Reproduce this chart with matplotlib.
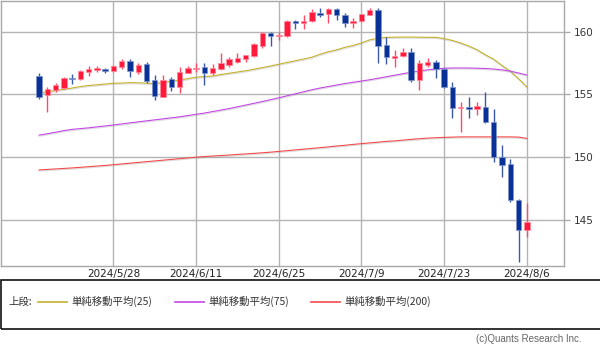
import matplotlib
matplotlib.use("Agg")
import matplotlib.pyplot as plt
import matplotlib.patheffects as pe
from matplotlib.patches import Rectangle
from matplotlib.lines import Line2D
import numpy as np

# ---------------- data ----------------
dates = ["2024/5/15", "2024/5/16", "2024/5/17", "2024/5/20", "2024/5/21", "2024/5/22",
         "2024/5/23", "2024/5/24", "2024/5/27", "2024/5/28", "2024/5/29", "2024/5/30",
         "2024/5/31", "2024/6/3", "2024/6/4", "2024/6/5", "2024/6/6", "2024/6/7",
         "2024/6/10", "2024/6/11", "2024/6/12", "2024/6/13", "2024/6/14", "2024/6/17",
         "2024/6/18", "2024/6/19", "2024/6/20", "2024/6/21", "2024/6/24", "2024/6/25",
         "2024/6/26", "2024/6/27", "2024/6/28", "2024/7/1", "2024/7/2", "2024/7/3",
         "2024/7/4", "2024/7/5", "2024/7/8", "2024/7/9", "2024/7/10", "2024/7/11",
         "2024/7/12", "2024/7/15", "2024/7/16", "2024/7/17", "2024/7/18", "2024/7/19",
         "2024/7/22", "2024/7/23", "2024/7/24", "2024/7/25", "2024/7/26", "2024/7/29",
         "2024/7/30", "2024/7/31", "2024/8/1", "2024/8/2", "2024/8/5", "2024/8/6"]

opens = [156.49, 154.95, 155.34, 155.48, 156.30, 156.20, 156.78, 156.94, 157.05, 156.88,
         157.16, 157.66, 156.80, 157.40, 156.14, 154.80, 156.20, 155.60, 156.73, 157.00,
         157.16, 156.68, 157.00, 157.34, 157.60, 157.80, 158.06, 158.88, 159.87, 159.66,
         159.66, 160.85, 160.72, 160.88, 161.52, 161.41, 161.79, 161.33, 160.67, 160.88,
         161.33, 161.73, 158.94, 157.88, 158.06, 158.40, 156.14, 157.34, 157.56, 157.02,
         155.60, 153.93, 154.00, 153.83, 154.00, 152.81, 150.00, 149.41, 146.56, 144.16]
highs = [156.68, 155.56, 155.93, 156.40, 156.60, 156.94, 157.26, 157.26, 157.10, 157.34,
         157.80, 157.80, 157.50, 157.60, 156.54, 156.54, 156.35, 157.16, 157.26, 157.48,
         157.48, 157.40, 158.27, 157.96, 158.27, 158.14, 159.07, 159.95, 160.00, 160.00,
         160.93, 160.90, 161.33, 161.79, 161.87, 161.87, 161.87, 161.47, 161.07, 161.45,
         161.87, 161.87, 159.60, 158.54, 158.67, 158.67, 157.74, 157.88, 157.74, 157.10,
         156.00, 154.40, 154.80, 154.40, 155.20, 153.80, 150.95, 149.82, 146.60, 146.34]
lows = [154.60, 153.60, 155.21, 155.40, 155.80, 156.14, 156.46, 156.80, 156.68, 156.78,
        157.00, 156.36, 156.60, 155.93, 154.55, 154.80, 155.26, 155.13, 156.70, 156.80,
        155.74, 156.54, 156.94, 157.20, 157.48, 157.60, 158.00, 158.72, 158.86, 159.34,
        159.60, 160.19, 160.20, 160.80, 161.20, 160.72, 160.93, 160.35, 160.27, 160.80,
        161.30, 157.48, 157.40, 157.20, 158.00, 156.00, 155.34, 157.20, 156.28, 155.48,
        153.08, 152.00, 153.08, 153.35, 152.70, 149.60, 148.42, 146.42, 141.63, 143.63]
closes = [154.81, 155.40, 155.74, 156.33, 156.20, 156.86, 157.00, 157.08, 156.88, 157.26,
          157.66, 156.85, 157.34, 156.09, 154.89, 156.14, 155.56, 156.76, 157.08, 157.12,
          156.73, 157.08, 157.48, 157.80, 157.92, 158.14, 159.00, 159.87, 159.66, 159.76,
          160.88, 160.72, 160.85, 161.55, 161.36, 161.79, 161.33, 160.72, 160.88, 161.41,
          161.73, 158.86, 157.96, 158.08, 158.40, 156.14, 157.52, 157.56, 157.02, 155.56,
          153.88, 154.00, 153.80, 154.07, 152.76, 149.97, 149.35, 146.56, 144.16, 144.78]

sma25 = [155.13, 155.20, 155.30, 155.40, 155.50, 155.62, 155.70, 155.76, 155.82, 155.88,
         155.90, 155.93, 155.92, 155.89, 155.86, 155.95, 156.05, 156.14, 156.25, 156.36,
         156.42, 156.46, 156.58, 156.68, 156.78, 156.88, 157.00, 157.13, 157.26, 157.40,
         157.54, 157.68, 157.82, 157.96, 158.20, 158.40, 158.55, 158.75, 158.90, 159.10,
         159.35, 159.47, 159.55, 159.56, 159.57, 159.57, 159.56, 159.55, 159.55, 159.45,
         159.30, 159.10, 158.85, 158.55, 158.15, 157.80, 157.30, 156.85, 156.25, 155.60]
sma75 = [151.74, 151.85, 151.97, 152.10, 152.20, 152.26, 152.32, 152.40, 152.47, 152.55,
         152.63, 152.72, 152.80, 152.88, 152.96, 153.04, 153.12, 153.20, 153.30, 153.40,
         153.50, 153.62, 153.74, 153.86, 154.00, 154.14, 154.28, 154.42, 154.57, 154.72,
         154.88, 155.04, 155.20, 155.36, 155.50, 155.62, 155.74, 155.86, 155.96, 156.06,
         156.16, 156.28, 156.40, 156.52, 156.64, 156.76, 156.86, 156.95, 157.03, 157.08,
         157.10, 157.10, 157.10, 157.08, 157.06, 157.02, 156.95, 156.85, 156.70, 156.54]
sma200 = [148.96, 149.00, 149.04, 149.08, 149.12, 149.17, 149.22, 149.27, 149.32, 149.38,
          149.44, 149.50, 149.56, 149.62, 149.68, 149.74, 149.80, 149.86, 149.92, 149.98,
          150.03, 150.07, 150.11, 150.15, 150.20, 150.24, 150.28, 150.33, 150.38, 150.44,
          150.50, 150.56, 150.62, 150.68, 150.74, 150.80, 150.87, 150.93, 151.00, 151.06,
          151.12, 151.18, 151.24, 151.28, 151.34, 151.40, 151.45, 151.50, 151.53, 151.56,
          151.58, 151.60, 151.60, 151.60, 151.60, 151.60, 151.60, 151.60, 151.58, 151.48]

tick_labels = ["2024/5/28", "2024/6/11", "2024/6/25", "2024/7/9", "2024/7/23", "2024/8/6"]
y_ticks = [145, 150, 155, 160]
legend_names = ["単純移動平均(25)", "単純移動平均(75)", "単純移動平均(200)"]

# ---------------- styling ----------------
C_UP = "#ff1a3c"
C_DN = "#0a3296"
C_MA = ["#c4b12c", "#c446e6", "#f24a4a"]
GRID = "#b4b4b4"
CJK = ["Noto Sans CJK JP", "DejaVu Sans"]

W, H = 600, 354
fig = plt.figure(figsize=(W / 100, H / 100), dpi=100)


def fx(px):
    return px / W


def fy(py):
    return 1 - py / H


ax = fig.add_axes([fx(1), fy(266), fx(564) - fx(1), fy(1) - fy(266)])

x = np.arange(len(dates))
o = np.array(opens)
h = np.array(highs)
l = np.array(lows)
c = np.array(closes)
up = c >= o
cols = np.where(up, C_UP, C_DN)
wick_cols = np.where(up, "#ff4a66", "#3a5aa8")

shadow = [pe.SimpleLineShadow(offset=(0.3, -0.8), shadow_color="#9a9a9a", alpha=0.35),
          pe.Normal()]
for vals, col in zip([sma25, sma75, sma200], C_MA):
    ax.plot(x, vals, color=col, lw=0.8, zorder=2, path_effects=shadow)

ax.vlines(x, l, h, colors=wick_cols, lw=1.0, zorder=3)
bottoms = np.minimum(o, c)
heights = np.maximum(np.abs(c - o), 0.07)
ax.bar(x, heights, bottom=bottoms, width=0.66, color=cols,
       edgecolor=np.where(up, "#ff8a9c", "#7f95cc"), linewidth=0.5, zorder=4)

ax.set_xlim(-4.6, 63.5)
ax.set_ylim(141.29, 162.45)

ax.set_yticks(y_ticks)
ax.set_yticklabels([str(v) for v in y_ticks])
ax.yaxis.tick_right()
ax.tick_params(axis="y", direction="out", length=4.3, width=1.0, color="#aaaaaa",
               labelcolor="#333333", labelsize=7.5, pad=3)

tick_pos = [dates.index(d) for d in tick_labels]
ax.set_xticks(tick_pos)
ax.set_xticklabels(tick_labels)
ax.tick_params(axis="x", length=0, labelcolor="#222222", labelsize=7.5, pad=2.5)

ax.grid(True, color=GRID, lw=1.0, zorder=0)
ax.set_axisbelow(True)
for sp in ax.spines.values():
    sp.set_color("#a8a8a8")
    sp.set_linewidth(1.0)

# ---------------- legend box ----------------
rect = Rectangle((fx(0.7), fy(329)), 1.2, (329 - 280) / H, transform=fig.transFigure,
                 fill=False, edgecolor="#111111", lw=1.2)
fig.add_artist(rect)
ly = fy(301.5)
fig.text(fx(8), ly, "上段:", ha="left", va="center", fontsize=7.5, family=CJK,
         color="#333333")
line_x = [(38, 67), (174.5, 203.6), (311, 340)]
text_x = [71.6, 208, 344]
for (x0, x1), tx, col, name in zip(line_x, text_x, C_MA, legend_names):
    fig.add_artist(Line2D([fx(x0), fx(x1)], [ly, ly], color=col, lw=1.2,
                          transform=fig.transFigure))
    fig.text(fx(tx), ly, name, ha="left", va="center", fontsize=7.5, family=CJK,
             color="#333333")

fig.text(fx(582), fy(339.5), "(c)Quants Research Inc.", ha="right", va="center",
         fontsize=7, family=["Liberation Sans", "DejaVu Sans"], color="#666666")

fig.savefig("out.png", dpi=100)
